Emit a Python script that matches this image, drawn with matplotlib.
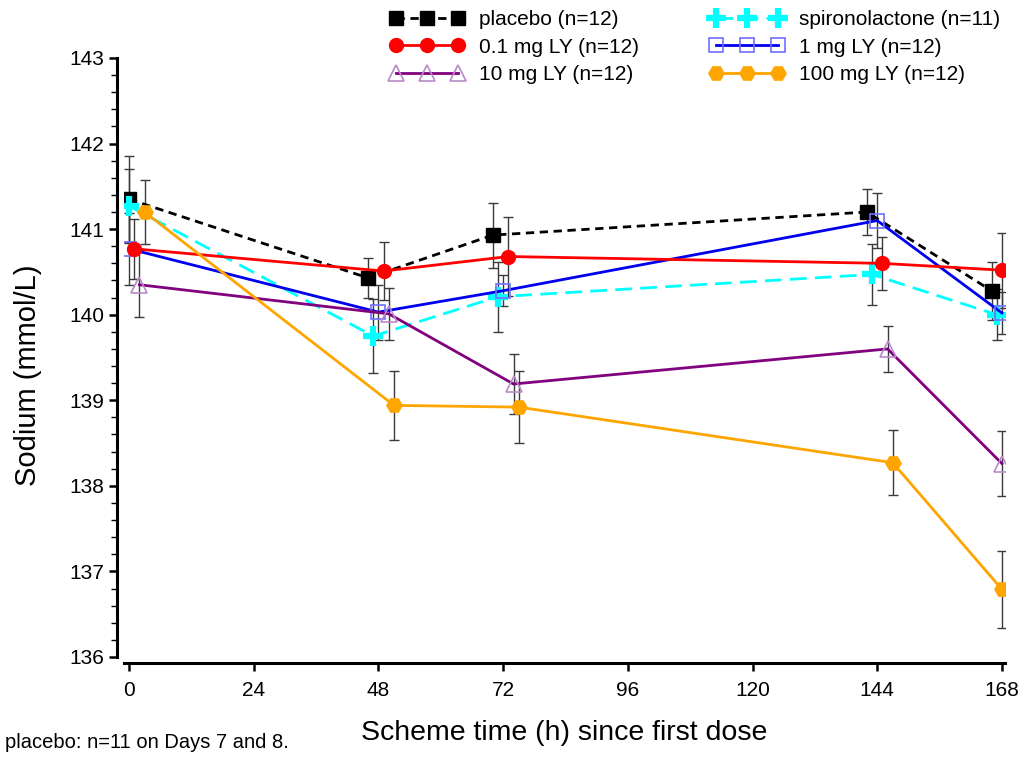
import numpy as np
import matplotlib
matplotlib.use("Agg")
import matplotlib.pyplot as plt
from matplotlib import font_manager

# ==================================================
# DATA
# ==================================================
hours = [0, 48, 72, 144, 168]

placebo = [141.35, 140.43, 140.93, 141.20, 140.28]
placebo_se = [0.50, 0.23, 0.38, 0.27, 0.34]

spiro = [141.27, 139.75, 140.21, 140.47, 140.00]
spiro_se = [0.43, 0.43, 0.41, 0.36, 0.30]

ly_1 = [140.77, 140.03, 140.28, 141.10, 140.02]
ly_1_se = [0.42, 0.32, 0.18, 0.32, 0.25]

ly_01 = [140.77, 140.51, 140.68, 140.60, 140.52]
ly_01_se = [0.35, 0.34, 0.46, 0.31, 0.44]

ly_10 = [140.35, 140.01, 139.19, 139.60, 138.26]
ly_10_se = [0.38, 0.30, 0.35, 0.27, 0.38]

ly_100 = [141.20, 138.94, 138.92, 138.27, 136.79]
ly_100_se = [0.37, 0.40, 0.42, 0.38, 0.45]

labels = {
    "placebo": "placebo (n=12)",
    "spiro": "spironolactone (n=11)",
    "ly_1": "1 mg LY (n=12)",
    "ly_01": "0.1 mg LY (n=12)",
    "ly_10": "10 mg LY (n=12)",
    "ly_100": "100 mg LY (n=12)",
}

# ==================================================
# FONT
# ==================================================
names = {f.name for f in font_manager.fontManager.ttflist}
if "Liberation Sans Narrow" in names:
    plt.rcParams["font.family"] = ["Liberation Sans Narrow", "Liberation Sans", "DejaVu Sans"]
else:
    plt.rcParams["font.family"] = ["Liberation Sans", "DejaVu Sans"]

# ==================================================
# STYLES  (dodge = horizontal shift in hours)
# ==================================================
series = [
    ("placebo", placebo, placebo_se, -2,
     dict(color="black", ls=(0, (3, 2)), marker="s", ms=10, mfc="black", mec="black")),
    ("spiro", spiro, spiro_se, -1,
     dict(color="#00ffff", ls=(0, (6, 3)), marker="+", ms=15, mew=4.5, mec="#00ffff")),
    ("ly_1", ly_1, ly_1_se, 0,
     dict(color="#0000ee", ls="-", marker="s", ms=10, mfc="none", mec="#6f6fff", mew=1.2)),
    ("ly_01", ly_01, ly_01_se, 1,
     dict(color="#ff0000", ls="-", marker="o", ms=10, mfc="#ff0000", mec="#ff0000")),
    ("ly_10", ly_10, ly_10_se, 2,
     dict(color="#800080", ls="-", marker="^", ms=11, mfc="none", mec="#b98ac8", mew=1.2)),
    ("ly_100", ly_100, ly_100_se, 3,
     dict(color="#ffa500", ls="-", marker="H", ms=11, mfc="#ffa500", mec="#ffa500")),
]

# ==================================================
# PLOT
# ==================================================
fig = plt.figure(figsize=(10.19, 7.61), dpi=100)
ax = fig.add_axes([0.1215, 0.1367, 0.8648, 0.7871])

handles = {}
for key, vals, se, shift, st in series:
    x = np.clip(np.array(hours, dtype=float) + shift, 0, 168)
    ax.errorbar(x, vals, yerr=se, fmt="none", ecolor="#3a3a3a",
                elinewidth=1.0, capsize=3.6, capthick=1.0, zorder=2)
    line, = ax.plot(x, vals, lw=2, zorder=3, **st)
    handles[key] = line

ax.set_xlim(-1, 168.6)
ax.set_ylim(136, 143)
ax.set_xticks(np.arange(0, 169, 24))
ax.set_yticks(np.arange(136, 143.1, 1))
ax.set_yticks(np.arange(136, 143.01, 0.2), minor=True)

for side in ["top", "right"]:
    ax.spines[side].set_visible(False)
ax.spines["left"].set_position(("outward", 5))
ax.spines["bottom"].set_position(("outward", 4))
ax.spines["left"].set_linewidth(2.2)
ax.spines["bottom"].set_linewidth(2.2)

ax.tick_params(axis="both", which="major", length=6, width=1.8, labelsize=15)
ax.tick_params(axis="x", which="major", pad=7)
ax.tick_params(axis="y", which="major", pad=3)
ax.tick_params(axis="y", which="minor", length=4, width=1)

ax.set_xlabel("Scheme time (h) since first dose", fontsize=20.5, labelpad=15)
ax.set_ylabel("Sodium (mmol/L)", fontsize=21)
ax.yaxis.set_label_coords(-0.093, 0.47)

order = ["placebo", "ly_01", "ly_10", "spiro", "ly_1", "ly_100"]
fig.legend([handles[k] for k in order], [labels[k] for k in order],
           loc="upper left", bbox_to_anchor=(0.382, 0.987), ncol=2,
           numpoints=3, frameon=False, fontsize=15, handlelength=3.6,
           handletextpad=0.7, columnspacing=3.4, labelspacing=0.42,
           borderpad=0, borderaxespad=0)

fig.text(0.005, 0.012, "placebo: n=11 on Days 7 and 8.", fontsize=14.5, ha="left", va="bottom")

fig.savefig("out.png", dpi=100)
